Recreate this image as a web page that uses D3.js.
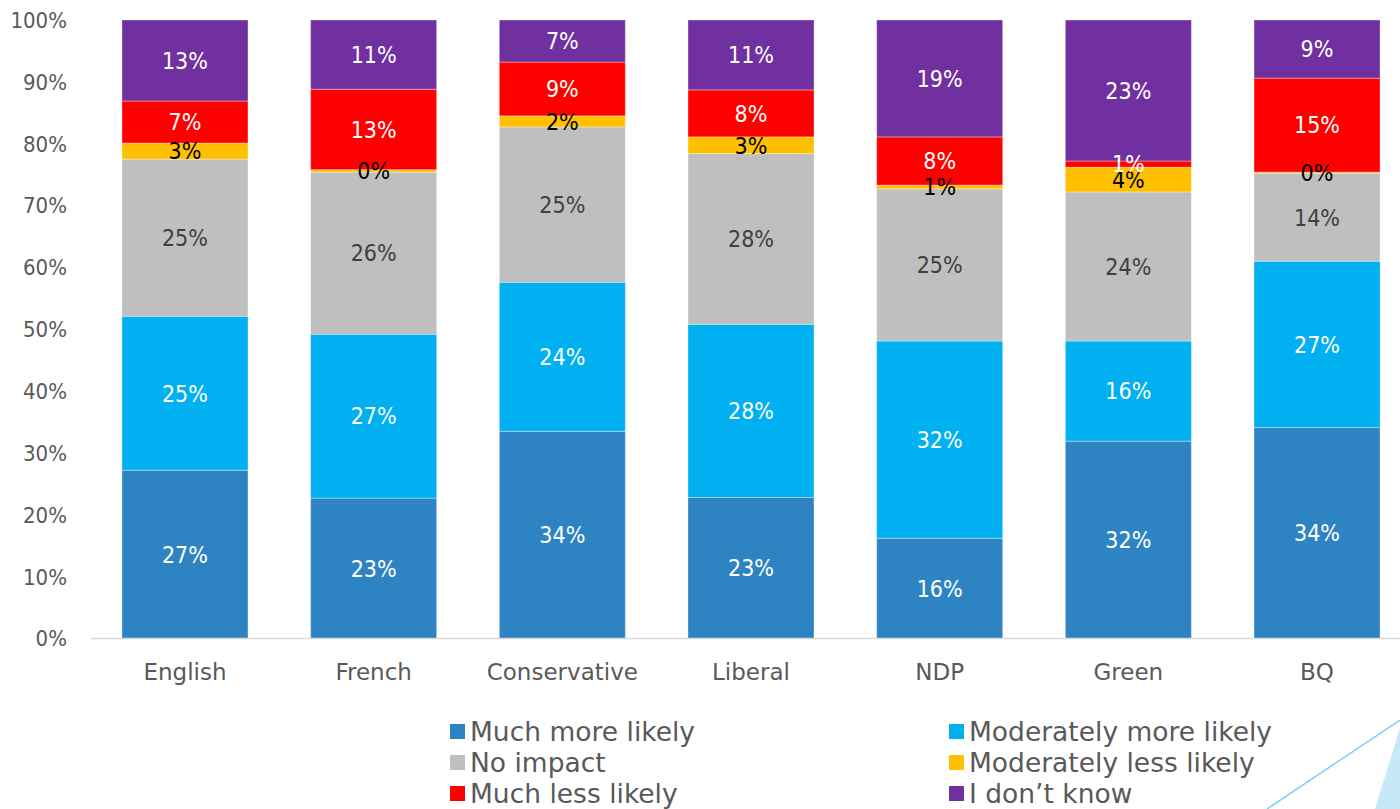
<!DOCTYPE html>
<html lang="en">
  <head>
    <meta charset="UTF-8" />
    <title>Stacked bar chart</title>
    <script src="https://cdnjs.cloudflare.com/ajax/libs/d3/7.8.5/d3.min.js"></script>
    <style>
      body { margin: 0; background: #fff; }
      text { font-family: "DejaVu Sans Condensed", "DejaVu Sans", sans-serif; }
      .wide { font-family: "DejaVu Sans", sans-serif; }
    </style>
  </head>
  <body>
    <svg id="chart" width="1400" height="809"></svg>

    <script type="text/javascript">
      var categories = ["English", "French", "Conservative", "Liberal", "NDP", "Green", "BQ"];
      var seriesNames = ["Much more likely", "Moderately more likely", "No impact",
        "Moderately less likely", "Much less likely", "I don\u2019t know"];
      var seriesColors = ["#2e83c3", "#00b0f0", "#bfbfbf", "#ffc000", "#ff0000", "#7030a0"];
      var labelColors = ["#fff", "#fff", "#404040", "#000", "#fff", "#fff"];

      // values per series, one per category (percent)
      var muchMore = [27.2, 22.7, 33.5, 22.8, 16.2, 31.9, 34.1];
      var modMore = [24.9, 26.5, 24.1, 28.0, 31.9, 16.2, 26.9];
      var noImpact = [25.4, 26.2, 25.1, 27.6, 24.6, 24.1, 14.2];
      var modLess = [2.6, 0.4, 1.8, 2.7, 0.6, 4.0, 0.2];
      var muchLess = [6.8, 13.0, 8.7, 7.6, 7.8, 1.0, 15.2];
      var dontKnow = [13.1, 11.2, 6.8, 11.3, 18.9, 22.8, 9.4];
      var yTicks = [0, 10, 20, 30, 40, 50, 60, 70, 80, 90, 100];

      var seriesValues = [muchMore, modMore, noImpact, modLess, muchLess, dontKnow];

      var svg = d3.select("#chart");

      var x = d3.scaleBand().domain(categories).range([91, 1411]).paddingInner(0.332).paddingOuter(0.164);
      var y = d3.scaleLinear().domain([0, 100]).range([638.5, 20]);

      /* value axis: labels only, no gridlines */
      svg.append("g")
        .selectAll("text")
        .data(yTicks)
        .enter()
        .append("text")
        .attr("x", 67)
        .attr("y", function (d) { return y(d); })
        .attr("dy", "0.36em")
        .attr("text-anchor", "end")
        .style("font-size", "22px")
        .style("fill", "#595959")
        .text(function (d) { return d + "%"; });

      /* build rows for d3.stack */
      var rows = categories.map(function (c, i) {
        var r = { cat: c };
        seriesNames.forEach(function (s, k) { r[s] = seriesValues[k][i]; });
        return r;
      });
      var stacked = d3.stack().keys(seriesNames)(rows);

      var layer = svg.append("g")
        .selectAll("g")
        .data(stacked)
        .enter()
        .append("g")
        .style("fill", function (d, k) { return seriesColors[k]; });

      layer.selectAll("rect")
        .data(function (d) { return d; })
        .enter()
        .append("rect")
        .attr("x", function (d) { return x(d.data.cat); })
        .attr("width", x.bandwidth())
        .attr("y", function (d) { return y(d[1]); })
        .attr("height", function (d) { return y(d[0]) - y(d[1]); })
        .style("stroke", "#ffffff")
        .style("stroke-opacity", 0.35)
        .style("stroke-width", 1);

      /* category axis line */
      svg.append("line")
        .attr("x1", 91).attr("x2", 1400)
        .attr("y1", y(0)).attr("y2", y(0))
        .style("stroke", "#d9d9d9")
        .style("stroke-width", 1.5);

      /* data labels, centred in each segment */
      var lbl = svg.append("g");
      stacked.forEach(function (s, k) {
        lbl.selectAll(null)
          .data(s)
          .enter()
          .append("text")
          .attr("x", function (d) { return x(d.data.cat) + x.bandwidth() / 2; })
          .attr("y", function (d) { return y((d[0] + d[1]) / 2); })
          .attr("dy", "0.36em")
          .attr("text-anchor", "middle")
          .style("font-size", "23px")
          .style("fill", labelColors[k])
          .text(function (d) { return Math.round(d[1] - d[0]) + "%"; });
      });

      /* category labels */
      svg.append("g")
        .selectAll("text")
        .data(categories)
        .enter()
        .append("text")
        .attr("class", "wide")
        .attr("x", function (d) { return x(d) + x.bandwidth() / 2; })
        .attr("y", 672)
        .attr("dy", "0.36em")
        .attr("text-anchor", "middle")
        .style("font-size", "23px")
        .style("fill", "#595959")
        .text(function (d) { return d; });

      /* legend, two columns */
      var legend = svg.append("g")
        .selectAll("g")
        .data(seriesNames)
        .enter()
        .append("g")
        .attr("transform", function (d, k) {
          return "translate(" + (k % 2 ? 949 : 450) + "," + (731 + Math.floor(k / 2) * 31) + ")";
        });
      legend.append("rect")
        .attr("x", 0).attr("y", -7)
        .attr("width", 15).attr("height", 15)
        .style("fill", function (d, k) { return seriesColors[k]; });
      legend.append("text")
        .attr("class", "wide")
        .attr("x", 20)
        .attr("dy", "0.36em")
        .style("font-size", "26.5px")
        .style("fill", "#595959")
        .text(function (d) { return d; });

      /* slide decoration, bottom right */
      svg.append("path")
        .attr("d", "M1375,809 L1400,728 L1400,809 Z")
        .style("fill", "#c5e9f7");
      svg.append("line")
        .attr("x1", 1267).attr("y1", 809)
        .attr("x2", 1400).attr("y2", 720)
        .style("stroke", "#7fd0ef")
        .style("stroke-width", 1.5);
    </script>
  </body>
</html>
